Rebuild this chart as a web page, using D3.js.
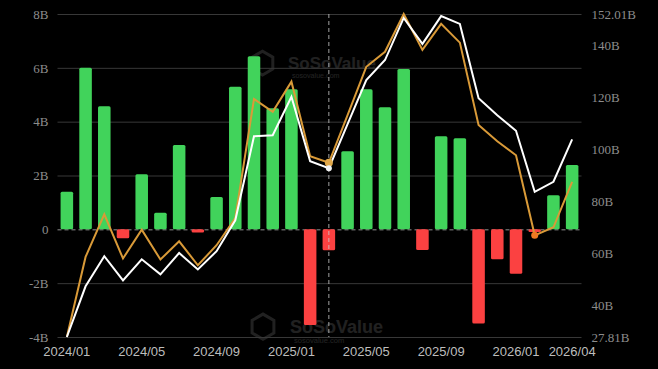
<!DOCTYPE html>
<html>
<head>
<meta charset="utf-8">
<script src="https://cdn.jsdelivr.net/npm/d3@7"></script>
<style>
  html, body { margin: 0; padding: 0; background: #000; }
  svg { display: block; }
</style>
</head>
<body>
<div id="chart-container"></div>
<script>
const months = ['2024/01', '2024/02', '2024/03', '2024/04', '2024/05', '2024/06', '2024/07', '2024/08', '2024/09', '2024/10', '2024/11', '2024/12',
  '2025/01', '2025/02', '2025/03', '2025/04', '2025/05', '2025/06', '2025/07', '2025/08', '2025/09', '2025/10', '2025/11', '2025/12',
  '2026/01', '2026/02', '2026/03', '2026/04'];
// monthly net flow, billions
const netFlow = [1.4, 6.0, 4.57, -0.33, 2.05, 0.62, 3.13, -0.12, 1.2, 5.3, 6.43, 4.5,
  5.2, -3.55, -0.78, 2.9, 5.2, 4.54, 5.96, -0.77, 3.46, 3.38, -3.5, -1.11,
  -1.65, -0.1, 1.27, 2.39];
// total net assets, billions (white)
const totalAssets = [27.81, 47.3, 58.9, 49.6, 57.7, 51.9, 60.1, 53.8, 60.8, 72.7, 105.0, 105.4,
  120.2, 95.4, 92.7, 109.7, 126.6, 134.3, 150.5, 140.5, 151.2, 148.2, 119.6, 113.1,
  107.1, 83.6, 87.5, 103.8];
// second series, billions (orange)
const otherLine = [27.81, 58.6, 75.0, 58.0, 69.1, 57.6, 64.6, 55.4, 63.1, 73.5, 119.3, 114.4,
  126.0, 97.3, 94.8, 113.1, 131.7, 137.5, 152.01, 138.2, 148.2, 141.0, 109.3, 103.1,
  97.7, 66.9, 70.0, 87.5];
const xTickLabels = ['2024/01', '2024/05', '2024/09', '2025/01', '2025/05', '2025/09', '2026/01', '2026/04'];
const leftTicks = [-4, -2, 0, 2, 4, 6, 8];
const rightTicks = [27.81, 40, 60, 80, 100, 120, 140, 152.01];

const w = 658;
const h = 369;
const plotLeft = 57.5;
const plotRight = 581.5;
const plotTop = 14;
const plotBottom = 337;

const svg = d3.select('#chart-container')
  .append('svg')
  .attr('width', w)
  .attr('height', h)
  .style('background', '#000');

const xScale = d3.scaleBand()
  .domain(months)
  .range([plotLeft, plotRight])
  .paddingInner(0.33)
  .paddingOuter(0.165);
const yLeft = d3.scaleLinear()
  .domain([-4, 8])
  .range([plotBottom, plotTop]);
const yRight = d3.scaleLinear()
  .domain([27.81, 152.01])
  .range([plotBottom, plotTop]);
const cx = m => xScale(m) + xScale.bandwidth() / 2;

// watermarks
const mark = (x, y, size) => {
  const g = svg.append('g').attr('transform', `translate(${x}, ${y})`).attr('opacity', 0.13);
  const r = size * 0.7;
  const hex = d3.range(6).map(i => [r * Math.cos(Math.PI / 3 * i + Math.PI / 6), r * Math.sin(Math.PI / 3 * i + Math.PI / 6)]);
  g.append('path')
    .attr('d', 'M' + hex.join('L') + 'Z')
    .attr('transform', `translate(${-size * 1.5}, ${-size * 0.35})`)
    .attr('fill', 'none')
    .attr('stroke', '#fff')
    .attr('stroke-width', 3);
  g.append('text')
    .text('SoSoValue')
    .attr('fill', '#fff')
    .attr('font-family', 'Liberation Sans, Arial, sans-serif')
    .attr('font-weight', 'bold')
    .attr('font-size', size);
  g.append('text')
    .text('sosovalue.com')
    .attr('x', 4)
    .attr('y', size * 0.55)
    .attr('fill', '#fff')
    .attr('font-family', 'Liberation Sans, Arial, sans-serif')
    .attr('font-size', size * 0.42);
};
mark(288, 69, 17);
mark(290, 333, 18);

// grid + left axis
const leftAxis = d3.axisLeft(yLeft)
  .tickValues(leftTicks)
  .tickFormat(d => d === 0 ? '0' : d + 'B')
  .tickSize(-(plotRight - plotLeft))
  .tickPadding(9);
const gLeft = svg.append('g')
  .attr('transform', `translate(${plotLeft}, 0)`)
  .call(leftAxis);
gLeft.select('.domain').remove();
gLeft.selectAll('line')
  .attr('stroke', '#383838')
  .attr('stroke-width', 1);
gLeft.selectAll('.tick')
  .filter(d => d === 0)
  .select('line')
  .attr('stroke', '#ccc')
  .attr('stroke-opacity', 0.7)
  .attr('stroke-dasharray', '4,3');
gLeft.selectAll('text')
  .attr('fill', '#8c8c8c')
  .attr('font-family', 'Liberation Serif, Times New Roman, serif')
  .attr('font-size', 13);

const rightAxis = d3.axisRight(yRight)
  .tickValues(rightTicks)
  .tickFormat(d => (Number.isInteger(d) ? d : d.toFixed(2)) + 'B')
  .tickSize(0)
  .tickPadding(10);
const gRight = svg.append('g')
  .attr('transform', `translate(${plotRight}, 0)`)
  .call(rightAxis);
gRight.select('.domain').remove();
gRight.selectAll('text')
  .attr('fill', '#8c8c8c')
  .attr('font-family', 'Liberation Serif, Times New Roman, serif')
  .attr('font-size', 13);

const xAxis = d3.axisBottom(xScale)
  .tickValues(xTickLabels)
  .tickSize(0)
  .tickPadding(10);
const gX = svg.append('g')
  .attr('transform', `translate(0, ${plotBottom})`)
  .call(xAxis);
gX.select('.domain').remove();
gX.selectAll('text')
  .attr('fill', '#bdbdbd')
  .attr('font-family', 'Liberation Sans, Arial, sans-serif')
  .attr('font-size', 13);

// bars
svg.append('g')
  .selectAll('rect')
  .data(months.map((m, i) => ({ month: m, value: netFlow[i] })))
  .enter()
  .append('rect')
  .attr('x', d => xScale(d.month))
  .attr('width', xScale.bandwidth())
  .attr('y', d => yLeft(Math.max(0, d.value)))
  .attr('height', d => Math.abs(yLeft(d.value) - yLeft(0)))
  .attr('rx', 1.5)
  .attr('fill', d => d.value >= 0 ? '#41d35b' : '#fb4141');

// crosshair at 2025/03
const hoverIdx = 14;
svg.append('line')
  .attr('x1', cx(months[hoverIdx]))
  .attr('x2', cx(months[hoverIdx]))
  .attr('y1', plotTop)
  .attr('y2', plotBottom)
  .attr('stroke', '#ccc')
  .attr('stroke-opacity', 0.8)
  .attr('stroke-dasharray', '4,3');

// lines
const line = d3.line()
  .x((d, i) => cx(months[i]))
  .y(d => yRight(d));
svg.append('path')
  .datum(otherLine)
  .attr('d', line)
  .attr('fill', 'none')
  .attr('stroke', '#d99a38')
  .attr('stroke-width', 2);
svg.append('path')
  .datum(totalAssets)
  .attr('d', line)
  .attr('fill', 'none')
  .attr('stroke', '#ffffff')
  .attr('stroke-width', 2);

// markers
svg.append('circle')
  .attr('cx', cx(months[hoverIdx]))
  .attr('cy', yRight(otherLine[hoverIdx]))
  .attr('r', 4)
  .attr('fill', '#e0a84a');
svg.append('circle')
  .attr('cx', cx(months[hoverIdx]))
  .attr('cy', yRight(totalAssets[hoverIdx]))
  .attr('r', 3)
  .attr('fill', '#f2f2f2');
svg.append('circle')
  .attr('cx', cx(months[25]))
  .attr('cy', yRight(otherLine[25]))
  .attr('r', 3.5)
  .attr('fill', '#f07a22');
</script>
</body>
</html>
